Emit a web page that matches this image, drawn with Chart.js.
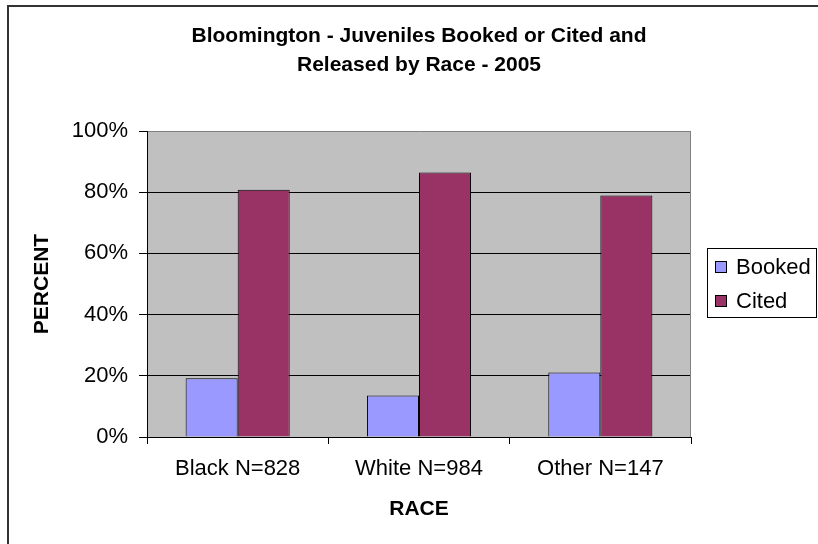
<!DOCTYPE html>
<html>
<head>
<meta charset="utf-8">
<script src="https://cdn.jsdelivr.net/npm/chart.js@4"></script>
<style>
  body { margin: 0; background: #fff; }
  #wrap { width: 818px; height: 544px; }
</style>
</head>
<body>
<div id="wrap"><canvas id="raceChart" width="818" height="544"></canvas></div>
<script>
// chart data
const categories = ['Black N=828', 'White N=984', 'Other N=147'];
const booked = [19.2, 13.6, 21.1];
const cited = [80.8, 86.4, 78.9];
const titleLines = ['Bloomington - Juveniles Booked or Cited and', 'Released by Race - 2005'];

const FONT = '"Liberation Sans", Arial, sans-serif';
Chart.defaults.font.family = FONT;
Chart.defaults.color = '#000';

// background, plot border, title and legend
const frame = {
    id: 'frame',
    beforeDraw(chart) {
        const { ctx, chartArea: a } = chart;
        ctx.save();
        ctx.fillStyle = '#fff';
        ctx.fillRect(0, 0, chart.width, chart.height);
        ctx.fillStyle = '#C0C0C0';
        ctx.fillRect(a.left, a.top, a.right - a.left, a.bottom - a.top);
        ctx.restore();
    },
    beforeDatasetsDraw(chart) {
        const { ctx, chartArea: a } = chart;
        ctx.save();
        ctx.strokeStyle = '#808080';
        ctx.lineWidth = 1;
        ctx.beginPath();
        ctx.moveTo(Math.round(a.right) - 0.5, a.top);
        ctx.lineTo(Math.round(a.right) - 0.5, a.bottom);
        ctx.stroke();
        ctx.restore();
    },
    afterDraw(chart) {
        const { ctx, chartArea: a } = chart;
        ctx.save();
        // outer border
        ctx.strokeStyle = '#333';
        ctx.lineWidth = 2;
        ctx.strokeRect(8, 6, chart.width + 10, chart.height + 10);

        // title
        ctx.fillStyle = '#000';
        ctx.font = 'bold 21px ' + FONT;
        ctx.textAlign = 'center';
        ctx.textBaseline = 'middle';
        const cx = (a.left + a.right) / 2;
        titleLines.forEach((t, i) => ctx.fillText(t, cx, 36 + i * 29));

        // legend
        ctx.lineWidth = 1;
        ctx.strokeStyle = '#000';
        ctx.strokeRect(707.5, 248.5, 109, 69);
        ctx.font = '22px ' + FONT;
        ctx.textAlign = 'left';
        chart.data.datasets.forEach((ds, i) => {
            const y = 267 + i * 34;
            ctx.fillStyle = ds.backgroundColor;
            ctx.fillRect(715.5, y - 5.5, 11, 11);
            ctx.strokeRect(715.5, y - 5.5, 11, 11);
            ctx.fillStyle = '#000';
            ctx.fillText(ds.label, 736, y + 1);
        });
        ctx.restore();
    }
};

new Chart(document.getElementById('raceChart'), {
    type: 'bar',
    data: {
        labels: categories,
        datasets: [
            {
                label: 'Booked',
                data: booked,
                backgroundColor: '#9999FF',
                borderColor: '#000',
                borderWidth: 1
            },
            {
                label: 'Cited',
                data: cited,
                backgroundColor: '#993366',
                borderColor: '#000',
                borderWidth: 1
            }
        ]
    },
    options: {
        responsive: false,
        animation: false,
        datasets: {
            bar: { categoryPercentage: 0.574, barPercentage: 1.0 }
        },
        layout: {
            padding: { left: 8, top: 131, right: 127, bottom: 0 }
        },
        plugins: {
            legend: { display: false },
            title: { display: false },
            tooltip: { enabled: false }
        },
        scales: {
            x: {
                grid: {
                    drawOnChartArea: false,
                    drawTicks: true,
                    tickLength: 7,
                    color: '#000'
                },
                border: { display: true, color: '#000', width: 1 },
                ticks: {
                    padding: 12,
                    font: { size: 22 },
                    color: '#000',
                    maxRotation: 0
                },
                title: {
                    display: true,
                    text: 'RACE',
                    font: { size: 21, weight: 'bold' },
                    padding: { top: 0, bottom: 22 },
                    color: '#000'
                },
                afterFit(scale) { scale.height = 107; }
            },
            y: {
                min: 0,
                max: 100,
                ticks: {
                    stepSize: 20,
                    padding: 11,
                    font: { size: 22 },
                    color: '#000',
                    callback: v => v + '%'
                },
                grid: {
                    color: ctx => (ctx.tick && ctx.tick.value === 100 ? '#808080' : '#000'),
                    tickColor: '#000',
                    tickLength: 8,
                    lineWidth: 1
                },
                border: { display: true, color: '#000', width: 1 },
                title: {
                    display: true,
                    text: 'PERCENT',
                    font: { size: 21, weight: 'bold' },
                    padding: { top: 22, bottom: 0 },
                    color: '#000'
                },
                afterFit(scale) { scale.width = 139; }
            }
        }
    },
    plugins: [frame]
});
</script>
</body>
</html>
